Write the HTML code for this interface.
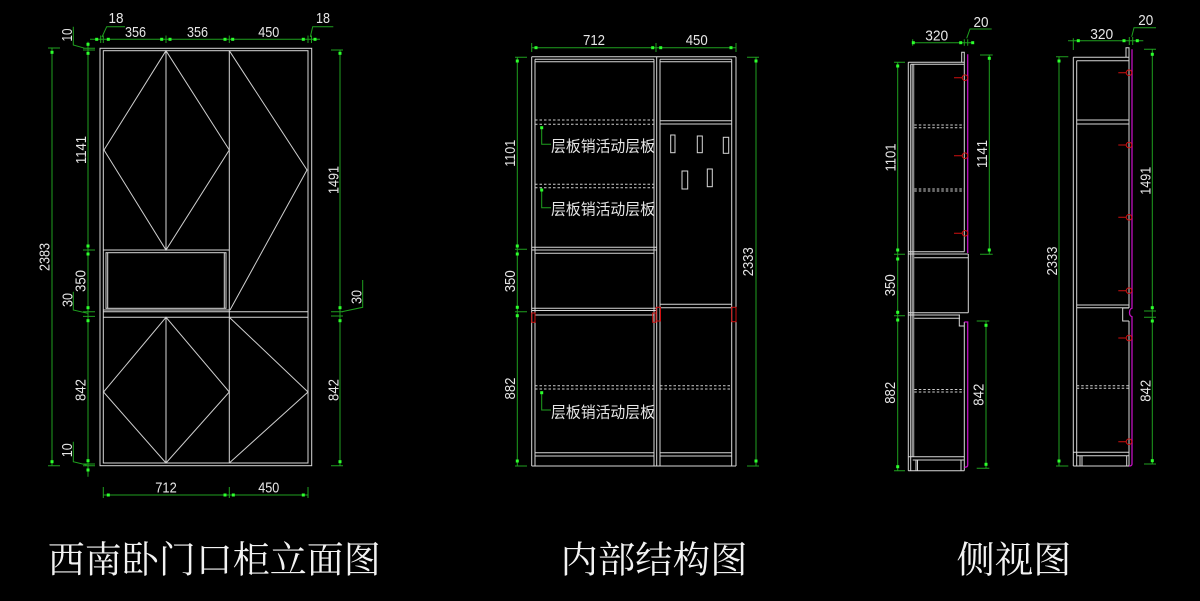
<!DOCTYPE html>
<html><head><meta charset="utf-8"><style>
html,body{margin:0;padding:0;background:#000;}
svg{display:block;}
.n{font-family:"Liberation Sans",sans-serif;font-size:15px;fill:#e6e6e6;}
.c{font-family:"Liberation Sans","Noto Sans CJK SC",sans-serif;fill:#e6e6e6;}
.s{font-family:"Liberation Serif","Noto Serif CJK SC",serif;fill:#f2f2f2;}
</style></head><body>
<svg width="1200" height="601" viewBox="0 0 1200 601" xmlns="http://www.w3.org/2000/svg">
<rect width="1200" height="601" fill="#000"/>

<!-- ============ LEFT ELEVATION ============ -->
<g fill="none" stroke="#d8d8d8" stroke-width="1">
<rect x="100" y="48.3" width="211.7" height="417.4"/>
<rect x="103.3" y="50.7" width="204.7" height="412.3"/>
<path d="M166 50.7V250 M166 317.3V463 M229.3 50.7V463 M103.3 250H229.3 M103.3 310H229.3 M103.3 311.7H308 M103.3 317.3H308"/>
<rect x="106" y="252.7" width="120" height="55.6"/>
<path d="M107.7 252.7V308.3 M224.3 252.7V308.3"/>
<path stroke="#cfcfcf" d="M166 50.7L104 150L166 250L229.3 150Z M229.3 50.7L307 170L230 310 M166 317.3L103.5 392L166 463L229.3 392Z M229.3 317.3L308 392L229.3 463"/>
</g>
<g fill="none" stroke="#1fa01f" stroke-width="1">
<path d="M90 39.3H320 M100.7 35.5V43 M103.3 35.5V43 M166 35.5V43 M229.3 35.5V43 M308 35.5V43 M311.5 35.5V43
M102 37L106.7 26.7H125 M310.3 37L312.7 26.7H333.3
M52 48V466 M48 48H60 M48 465.7H60
M88 41.7V476.7 M83 48.3H95 M83 50H95 M83 250H95 M83 311.7H95 M83 316.4H95 M83 464H95 M83 465.7H95
M73.3 26.7V45L85 48.3 M73.3 291.7V310L87.7 313.3 M73.3 441.7V461.7L86.7 465
M340 50V466 M331 50H343 M331 311.7H343 M331 316H343 M331 465.7H343 M341.7 311.7L362.7 307.3V280
M103.3 495H308 M103.3 487V498 M229.3 487V498 M308 487V498"/>
</g>
<g fill="#2cff2c">
<rect x="95.2" y="37.8" width="3" height="3"/><rect x="106.8" y="37.8" width="3" height="3"/>
<rect x="160.2" y="37.8" width="3" height="3"/><rect x="168.5" y="37.8" width="3" height="3"/>
<rect x="223.5" y="37.8" width="3" height="3"/><rect x="231.2" y="37.8" width="3" height="3"/>
<rect x="301.8" y="37.8" width="3" height="3"/><rect x="313.5" y="37.8" width="3" height="3"/>
<rect x="50.5" y="50.8" width="3" height="3"/><rect x="50.5" y="460.2" width="3" height="3"/>
<rect x="86.5" y="42.8" width="3" height="3"/><rect x="86.5" y="51.8" width="3" height="3"/>
<rect x="86.5" y="244.5" width="3" height="3"/><rect x="86.5" y="252.5" width="3" height="3"/>
<rect x="86.5" y="306.2" width="3" height="3"/><rect x="86.5" y="319.2" width="3" height="3"/>
<rect x="86.5" y="459.2" width="3" height="3"/><rect x="86.5" y="468.5" width="3" height="3"/>
<rect x="338.5" y="51.8" width="3" height="3"/><rect x="338.5" y="306.2" width="3" height="3"/>
<rect x="338.5" y="319.2" width="3" height="3"/><rect x="338.5" y="460.2" width="3" height="3"/>
<rect x="106.8" y="493.5" width="3" height="3"/><rect x="223.5" y="493.5" width="3" height="3"/>
<rect x="231.8" y="493.5" width="3" height="3"/><rect x="301.8" y="493.5" width="3" height="3"/>
</g>
<g class="n" text-anchor="middle">
<text x="116" y="23" textLength="15" lengthAdjust="spacingAndGlyphs">18</text>
<text x="135.5" y="37" textLength="21" lengthAdjust="spacingAndGlyphs">356</text>
<text x="197.5" y="37" textLength="21" lengthAdjust="spacingAndGlyphs">356</text>
<text x="268.8" y="37" textLength="21" lengthAdjust="spacingAndGlyphs">450</text>
<text x="323" y="23" textLength="14" lengthAdjust="spacingAndGlyphs">18</text>
<text x="166" y="492.5" textLength="21.5" lengthAdjust="spacingAndGlyphs">712</text>
<text x="268.8" y="492.5" textLength="21" lengthAdjust="spacingAndGlyphs">450</text>
<text transform="translate(66.7,35) rotate(-90)" x="0" y="5.5" textLength="13" lengthAdjust="spacingAndGlyphs">10</text>
<text transform="translate(44,257) rotate(-90)" x="0" y="5.5" textLength="28" lengthAdjust="spacingAndGlyphs">2383</text>
<text transform="translate(80.5,150) rotate(-90)" x="0" y="5.5" textLength="28" lengthAdjust="spacingAndGlyphs">1141</text>
<text transform="translate(80,281) rotate(-90)" x="0" y="5.5" textLength="22" lengthAdjust="spacingAndGlyphs">350</text>
<text transform="translate(67,300) rotate(-90)" x="0" y="5.5" textLength="14" lengthAdjust="spacingAndGlyphs">30</text>
<text transform="translate(80,390) rotate(-90)" x="0" y="5.5" textLength="22" lengthAdjust="spacingAndGlyphs">842</text>
<text transform="translate(66.7,450.3) rotate(-90)" x="0" y="5.5" textLength="14" lengthAdjust="spacingAndGlyphs">10</text>
<text transform="translate(333,180) rotate(-90)" x="0" y="5.5" textLength="28" lengthAdjust="spacingAndGlyphs">1491</text>
<text transform="translate(355.8,297) rotate(-90)" x="0" y="5.5" textLength="14" lengthAdjust="spacingAndGlyphs">30</text>
<text transform="translate(333,390) rotate(-90)" x="0" y="5.5" textLength="22" lengthAdjust="spacingAndGlyphs">842</text>
</g>

<!-- ============ MIDDLE (INTERNAL) ============ -->
<g fill="none" stroke="#d8d8d8" stroke-width="1">
<path d="M531.7 56.7H736 M531.7 56.7V466 M535 59.3V466 M654 59.3V466 M656.7 56.7V466 M660 59.3V466 M731.7 59.3V466 M736 56.7V466 M531.7 466H736
M535 59.3H654 M535 61.7H654 M660 59.3H731.7 M660 61.7H731.7
M535 452.7H654 M535 456H654 M660 452.7H731.7 M660 456H731.7
M532 247.3H656.7 M532 250H656.7 M535 253.3H654 M532 308.3H656.7 M532 310.5H656.7 M535 315H654
M660 120.7H731.7 M660 124H731.7 M660 304.3H731.7 M660 307.7H731.7"/>
<g stroke="#cfcfcf" stroke-dasharray="2.5 2">
<path d="M535 120H654 M535 124.3H654 M535 184.3H654 M535 187.7H654 M535 385.7H654 M535 389H654 M660 385.7H731.7 M660 389H731.7"/>
</g>
<rect x="670.7" y="135" width="4.3" height="17.7"/>
<rect x="697.3" y="136" width="5" height="16.7"/>
<rect x="723.3" y="137.3" width="5.4" height="16"/>
<rect x="682" y="171" width="5.7" height="18"/>
<rect x="707.3" y="169" width="5" height="17.7"/>
</g>
<g fill="none" stroke="#d01010" stroke-width="1">
<rect x="531.7" y="313" width="3.3" height="9.3"/>
<rect x="652.7" y="313" width="3.3" height="9.3"/>
<rect x="656.2" y="307.3" width="4.3" height="13.7"/>
<rect x="731.7" y="307.3" width="4.3" height="14.4"/>
</g>
<g fill="none" stroke="#1fa01f" stroke-width="1">
<path d="M531.7 47.7H736 M531.7 43V52 M656 43V52 M736 43V52
M517.3 57.3V466 M515 57.3H527 M515 249.3H527 M515 311.7H527 M515 466H527
M756 57.3V466 M747 57.3H759 M747 466H759
M541.7 127.7V144.3H551 M541.7 190V207.7H551 M541.7 392.7V410H551"/>
</g>
<g fill="#2cff2c">
<rect x="534.5" y="46.2" width="3" height="3"/><rect x="651.2" y="46.2" width="3" height="3"/>
<rect x="659.2" y="46.2" width="3" height="3"/><rect x="729.5" y="46.2" width="3" height="3"/>
<rect x="515.8" y="59.5" width="3" height="3"/><rect x="515.8" y="244.5" width="3" height="3"/>
<rect x="515.8" y="252.5" width="3" height="3"/><rect x="515.8" y="305.8" width="3" height="3"/>
<rect x="515.8" y="314.2" width="3" height="3"/><rect x="515.8" y="459.5" width="3" height="3"/>
<rect x="754.5" y="59.5" width="3" height="3"/><rect x="754.5" y="459.5" width="3" height="3"/>
<rect x="540.2" y="126.2" width="3" height="3"/><rect x="540.2" y="188.5" width="3" height="3"/>
<rect x="540.2" y="391.2" width="3" height="3"/>
</g>
<g class="n" text-anchor="middle">
<text x="594" y="44.8" textLength="22" lengthAdjust="spacingAndGlyphs">712</text>
<text x="696.7" y="44.8" textLength="22" lengthAdjust="spacingAndGlyphs">450</text>
<text transform="translate(509.5,153.3) rotate(-90)" x="0" y="5.5" textLength="27" lengthAdjust="spacingAndGlyphs">1101</text>
<text transform="translate(509.5,281.3) rotate(-90)" x="0" y="5.5" textLength="22" lengthAdjust="spacingAndGlyphs">350</text>
<text transform="translate(509.5,388.5) rotate(-90)" x="0" y="5.5" textLength="22" lengthAdjust="spacingAndGlyphs">882</text>
<text transform="translate(747.5,261.7) rotate(-90)" x="0" y="5.5" textLength="29" lengthAdjust="spacingAndGlyphs">2333</text>
</g>
<g class="c" font-size="15.5">
<text x="551" y="151.7" textLength="104" lengthAdjust="spacingAndGlyphs">层板销活动层板</text>
<text x="551" y="214.3" textLength="104" lengthAdjust="spacingAndGlyphs">层板销活动层板</text>
<text x="551" y="417.7" textLength="104" lengthAdjust="spacingAndGlyphs">层板销活动层板</text>
</g>

<!-- ============ SIDE VIEW 1 ============ -->
<rect x="911.7" y="64.3" width="2.6" height="392.4" fill="#8a8a8a"/>
<g fill="none" stroke="#d8d8d8" stroke-width="1">
<path d="M908.3 62.3V470.7 M910.7 64.3V470.7 M908.3 62.3H964.3 M910.7 64.3H964.3
M961.7 62.3V52.3H964.3V251.7
M908.3 251.7H964.3 M908.3 254H968.3 M914.3 257.7H968.3 M968.3 254V312.7
M908.3 312.7H968.3 M908.3 315H960 M914.3 318.3H960 M959.3 315V326H964.3 M964.3 322V470.7
M908.3 456.7H964.3 M912.7 460H964.3 M908.3 470.7H964.3 M916 460V470.7 M917.5 460V470.7 M961 460V470.7"/>
<g stroke="#cfcfcf" stroke-dasharray="2.5 2">
<path d="M914.3 125H964 M914.3 127.7H964 M914.3 189H964 M914.3 191H964 M914.3 389.5H964 M914.3 392H964"/>
</g>
</g>
<g fill="none" stroke="#c010c0" stroke-width="1.3">
<path d="M967.7 54.3V253 M964.3 322H967.7V465Q967.7 467.3 964.3 467.3"/>
</g>
<g fill="none" stroke="#d01010" stroke-width="1">
<path d="M954 77.7H962.2 M954 155.7H962.2 M954 233.3H962.2"/>
<circle cx="965" cy="77.7" r="2.8"/><circle cx="965" cy="155.7" r="2.8"/><circle cx="965" cy="233.3" r="2.8"/>
</g>
<g fill="none" stroke="#1fa01f" stroke-width="1">
<path d="M912.7 42.7H971.7 M912.7 39.3V45.7 M964.3 39.3V45.7 M967.7 39.3V45.7 M966.7 38.3L970 29H991.7
M897.7 62.3V470.7 M894 62.3H905 M894 254.3H905 M894 315.7H905 M894 470.7H905
M989.3 55V254.3 M980 55H992.7 M980 254.3H992.7
M986 321V468.3 M976.7 321H989.3 M976.7 468.3H989.3"/>
</g>
<g fill="#2cff2c">
<rect x="911.8" y="41.2" width="3" height="3"/><rect x="959.2" y="41.2" width="3" height="3"/>
<rect x="971.2" y="41.2" width="3" height="3"/>
<rect x="896.2" y="64.5" width="3" height="3"/><rect x="896.2" y="248.5" width="3" height="3"/>
<rect x="896.2" y="257.5" width="3" height="3"/><rect x="896.2" y="310.8" width="3" height="3"/>
<rect x="896.2" y="318.5" width="3" height="3"/><rect x="896.2" y="465.2" width="3" height="3"/>
<rect x="987.8" y="56.8" width="3" height="3"/><rect x="987.8" y="248.5" width="3" height="3"/>
<rect x="984.5" y="323.8" width="3" height="3"/><rect x="984.5" y="462.8" width="3" height="3"/>
</g>
<g class="n" text-anchor="middle">
<text x="936.7" y="40.3" textLength="23" lengthAdjust="spacingAndGlyphs">320</text>
<text x="981" y="27.2" textLength="15" lengthAdjust="spacingAndGlyphs">20</text>
<text transform="translate(890,157.5) rotate(-90)" x="0" y="5.5" textLength="28" lengthAdjust="spacingAndGlyphs">1101</text>
<text transform="translate(889.5,285.3) rotate(-90)" x="0" y="5.5" textLength="22" lengthAdjust="spacingAndGlyphs">350</text>
<text transform="translate(889.5,392.8) rotate(-90)" x="0" y="5.5" textLength="22" lengthAdjust="spacingAndGlyphs">882</text>
<text transform="translate(981.3,154) rotate(-90)" x="0" y="5.5" textLength="28" lengthAdjust="spacingAndGlyphs">1141</text>
<text transform="translate(978,394.7) rotate(-90)" x="0" y="5.5" textLength="22" lengthAdjust="spacingAndGlyphs">842</text>
</g>

<!-- ============ SIDE VIEW 2 ============ -->
<g fill="none" stroke="#d8d8d8" stroke-width="1">
<path d="M1073.3 57.3V466 M1076.7 60.7V466 M1073.3 57.3H1129 M1076.7 60.7H1129
M1126 57.3V47.7H1129V308 M1129 321V466
M1076.7 120H1129 M1076.7 124H1129 M1076.7 305H1129 M1076.7 307.7H1129
M1129 308H1122.7V321H1129
M1073.3 452.3H1129 M1076.7 455.7H1129 M1073.3 466H1129 M1080 455.7V466 M1082 455.7V466 M1126.7 455.7V466"/>
<g stroke="#cfcfcf" stroke-dasharray="2.5 2">
<path d="M1076.7 385.7H1129 M1076.7 388.3H1129"/>
</g>
</g>
<g fill="none" stroke="#c010c0" stroke-width="1.3">
<path d="M1132 49.3V308.3Q1129.5 309 1129.5 312.5Q1129.5 316 1132 316.7V464Q1132 466 1129 466"/>
</g>
<g fill="none" stroke="#d01010" stroke-width="1">
<path d="M1118.3 72.7H1126.2 M1118.3 145H1126.2 M1118.3 217.3H1126.2 M1118.3 290.7H1126.2 M1118.3 338H1126.2 M1118.3 441.7H1126.2"/>
<circle cx="1129" cy="72.7" r="2.8"/><circle cx="1129" cy="145" r="2.8"/><circle cx="1129" cy="217.3" r="2.8"/>
<circle cx="1129" cy="290.7" r="2.8"/><circle cx="1129" cy="338" r="2.8"/><circle cx="1129" cy="441.7" r="2.8"/>
</g>
<g fill="none" stroke="#1fa01f" stroke-width="1">
<path d="M1068 40.7H1143.3 M1073.3 38.3V50 M1129.3 37V45 M1132.7 37V45 M1131.7 36.7L1134 27.7H1156
M1059 56.7V466 M1056 56.7H1068.3 M1056 466H1068.3
M1152.3 49.3V464 M1144 49.3H1156 M1144 311H1156 M1144 317.3H1156 M1144 464H1156"/>
</g>
<g fill="#2cff2c">
<rect x="1076.8" y="39.2" width="3" height="3"/><rect x="1122.5" y="39.2" width="3" height="3"/>
<rect x="1135.8" y="39.2" width="3" height="3"/>
<rect x="1057.5" y="59.5" width="3" height="3"/><rect x="1057.5" y="459.5" width="3" height="3"/>
<rect x="1150.8" y="52.8" width="3" height="3"/><rect x="1150.8" y="306.2" width="3" height="3"/>
<rect x="1150.8" y="319.5" width="3" height="3"/><rect x="1150.8" y="459.2" width="3" height="3"/>
</g>
<g class="n" text-anchor="middle">
<text x="1101.7" y="38.8" textLength="23" lengthAdjust="spacingAndGlyphs">320</text>
<text x="1145.8" y="25.2" textLength="15" lengthAdjust="spacingAndGlyphs">20</text>
<text transform="translate(1051.5,261) rotate(-90)" x="0" y="5.5" textLength="29" lengthAdjust="spacingAndGlyphs">2333</text>
<text transform="translate(1145,180.8) rotate(-90)" x="0" y="5.5" textLength="28" lengthAdjust="spacingAndGlyphs">1491</text>
<text transform="translate(1145,390.8) rotate(-90)" x="0" y="5.5" textLength="22" lengthAdjust="spacingAndGlyphs">842</text>
</g>

<!-- ============ TITLES ============ -->
<g class="s" font-size="37">
<text x="47.8" y="572.5" textLength="333" lengthAdjust="spacingAndGlyphs">西南卧门口柜立面图</text>
<text x="560.5" y="572.5" textLength="187" lengthAdjust="spacingAndGlyphs">内部结构图</text>
<text x="956.5" y="572.5" textLength="115" lengthAdjust="spacingAndGlyphs">侧视图</text>
</g>
</svg>
</body></html>
